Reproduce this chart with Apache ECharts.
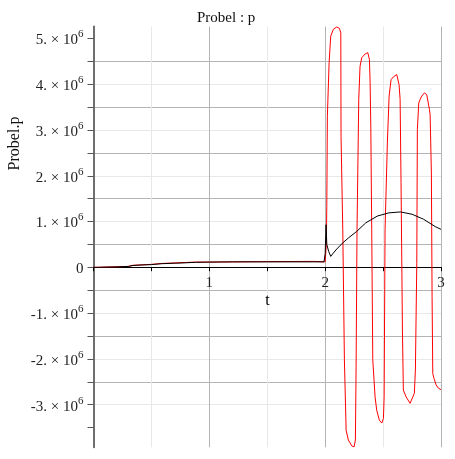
<!DOCTYPE html>
<html>
<head>
<meta charset="utf-8">
<script src="https://cdn.jsdelivr.net/npm/echarts@6/dist/echarts.min.js"></script>
<style>
html,body{margin:0;padding:0;background:#fff;}
#chart{width:455px;height:459px;}
</style>
</head>
<body>
<div id="chart"></div>
<script>
var titleText = 'Probel : p';
var xName = 't';
var yName = 'Probel.p';

var xLabelValues = [1, 2, 3];
var yLabelValues = [-3e6, -2e6, -1e6, 0, 1e6, 2e6, 3e6, 4e6, 5e6];
var yTickValues = [-3.5e6, -3e6, -2.5e6, -2e6, -1.5e6, -1e6, -0.5e6, 0, 0.5e6, 1e6, 1.5e6, 2e6, 2.5e6, 3e6, 3.5e6, 4e6, 4.5e6, 5e6];

var blackT = [0, 0.05, 0.1, 0.2, 0.3, 0.34, 0.4, 0.5, 0.59, 0.7, 0.8, 0.88, 1.0, 1.2, 1.5, 1.8, 1.99, 2.0, 2.008, 2.012, 2.014, 2.03, 2.048, 2.07, 2.1, 2.15, 2.2, 2.27, 2.35, 2.45, 2.55, 2.65, 2.75, 2.85, 2.95, 3.0];
var blackP = [0, 0, 0.005e6, 0.01e6, 0.02e6, 0.04e6, 0.05e6, 0.06e6, 0.08e6, 0.09e6, 0.1e6, 0.11e6, 0.115e6, 0.12e6, 0.12e6, 0.12e6, 0.12e6, 0.3e6, 0.93e6, 0.9e6, 0.5e6, 0.35e6, 0.24e6, 0.31e6, 0.4e6, 0.53e6, 0.64e6, 0.78e6, 0.97e6, 1.12e6, 1.19e6, 1.21e6, 1.16e6, 1.05e6, 0.89e6, 0.83e6];

var redT = [0, 0.1, 0.3, 0.34, 0.5, 0.59, 0.88, 1.0, 1.5, 1.9, 2.0, 2.01, 2.014, 2.019, 2.034, 2.048, 2.071, 2.1, 2.123, 2.135, 2.137, 2.152, 2.166, 2.181, 2.2, 2.23, 2.25, 2.261, 2.267, 2.275, 2.29, 2.301, 2.316, 2.345, 2.368, 2.382, 2.388, 2.394, 2.402, 2.411, 2.431, 2.445, 2.468, 2.489, 2.503, 2.509, 2.517, 2.537, 2.552, 2.569, 2.589, 2.618, 2.638, 2.647, 2.655, 2.667, 2.675, 2.699, 2.733, 2.75, 2.77, 2.779, 2.791, 2.796, 2.808, 2.82, 2.834, 2.857, 2.877, 2.9, 2.906, 2.917, 2.923, 2.929, 2.94, 2.958, 2.978, 3.0];
var redP = [0, 0.005e6, 0.02e6, 0.045e6, 0.065e6, 0.085e6, 0.115e6, 0.115e6, 0.125e6, 0.13e6, 0.12e6, 0.5e6, 1.33e6, 3.3e6, 4.47e6, 5.05e6, 5.2e6, 5.25e6, 5.22e6, 5.12e6, 2.86e6, 0.82e6, -2.02e6, -3.56e6, -3.77e6, -3.9e6, -3.92e6, -3.77e6, -2.17e6, 0.82e6, 3.67e6, 4.39e6, 4.58e6, 4.66e6, 4.69e6, 4.54e6, 4.04e6, 3.08e6, 0.82e6, -2.02e6, -2.83e6, -3.12e6, -3.34e6, -3.4e6, -3.3e6, -2.83e6, 0.82e6, 2.72e6, 3.74e6, 4.1e6, 4.16e6, 4.21e6, 3.99e6, 3.67e6, 1.85e6, -1.37e6, -2.68e6, -2.83e6, -2.97e6, -2.99e6, -2.75e6, -2.24e6, 0.09e6, 3.01e6, 3.59e6, 3.67e6, 3.74e6, 3.81e6, 3.77e6, 3.45e6, 3.34e6, 2.06e6, -0.64e6, -2.32e6, -2.43e6, -2.57e6, -2.64e6, -2.67e6];

function zip(a, b) { return a.map(function (v, i) { return [v, b[i]]; }); }

var serif = '"Liberation Serif", "Times New Roman", serif';

var chart = echarts.init(document.getElementById('chart'), null, {renderer: 'canvas'});
chart.setOption({
  animation: false,
  backgroundColor: '#fff',
  title: {
    text: titleText,
    left: 192, top: 6,
    textStyle: {fontFamily: serif, fontSize: 15, fontWeight: 'normal', color: '#111'}
  },
  graphic: [{
    type: 'text', x: 15, y: 143.5, rotation: Math.PI / 2, z: 100,
    style: {text: yName, font: '16px ' + serif, fill: '#111', textAlign: 'center', textVerticalAlign: 'middle'}
  }, {
    type: 'text', x: 267.5, y: 301, z: 100,
    style: {text: xName, font: '16px ' + serif, fill: '#000', textAlign: 'center', textVerticalAlign: 'middle'}
  }],
  grid: {left: 93.5, right: 14, top: 26.5, bottom: 11.7, containLabel: false, outerBoundsMode: 'none'},
  xAxis: [{
    type: 'value', min: 0, max: 3, interval: 0.5,
    axisLine: {onZero: true, lineStyle: {color: '#000', width: 1}},
    axisTick: {show: false},
    axisLabel: {show: false},
    splitLine: {show: true, lineStyle: {color: ['#b4b4b4', '#e8e8e8'], width: 1}}
  }, {
    type: 'value', min: 0, max: 3, interval: 0.5, position: 'bottom', offset: -180.1,
    axisLine: {show: false, onZero: false},
    axisTick: {show: true, length: 4, lineStyle: {color: '#000'}},
    axisLabel: {
      margin: 8, fontFamily: serif, fontSize: 15, color: '#222',
      formatter: function (v) { return xLabelValues.indexOf(v) >= 0 ? String(v) : ''; }
    },
    splitLine: {show: false}
  }],
  yAxis: {
    type: 'value', min: -3.93e6, max: 5.26e6,
    axisLine: {show: true, onZero: false, lineStyle: {color: '#6e6e6e', width: 2}},
    axisTick: {show: true, length: 6, customValues: yTickValues, lineStyle: {color: '#555'}},
    axisLabel: {
      customValues: yLabelValues, margin: 10, color: '#222',
      formatter: function (v) {
        if (v === 0) return '{m|0}';
        return '{m|' + Math.round(v / 1e6) + '. \u00d7 10}{s|6}';
      },
      rich: {
        m: {fontFamily: serif, fontSize: 15, color: '#222', padding: [4, 0, 0, 0]},
        s: {fontFamily: serif, fontSize: 11, color: '#222', padding: [0, 0, 8, 0]}
      }
    },
    splitLine: {show: true, showMinLine: false, showMaxLine: false, lineStyle: {color: ['#e8e8e8', '#b4b4b4'], width: 1}}
  },
  series: [
    {type: 'line', data: zip(redT, redP), showSymbol: false, lineStyle: {color: '#ff0000', width: 1}, itemStyle: {color: '#ff0000'}, clip: true},
    {type: 'line', data: zip(blackT, blackP), showSymbol: false, lineStyle: {color: '#000', width: 1}, itemStyle: {color: '#000'}, clip: true}
  ]
});
</script>
</body>
</html>
